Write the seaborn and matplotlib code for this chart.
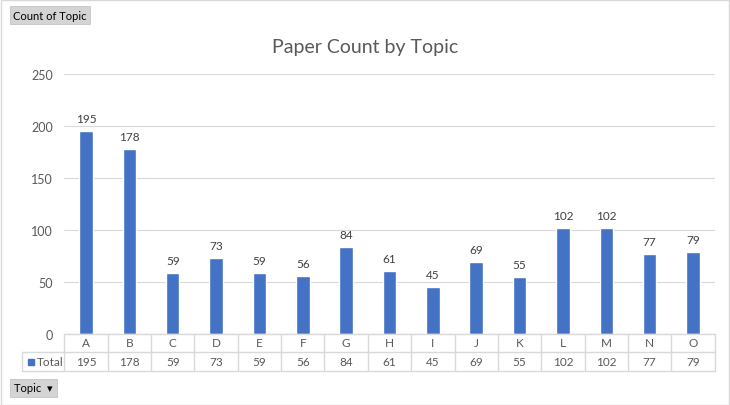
import matplotlib
matplotlib.use("Agg")
import matplotlib.pyplot as plt
import matplotlib.transforms as mtrans
from matplotlib.patches import Rectangle
import seaborn as sns
import pandas as pd

# Data
topics = ["A", "B", "C", "D", "E", "F", "G", "H", "I", "J", "K", "L", "M", "N", "O"]
counts = [195, 178, 59, 73, 59, 56, 84, 61, 45, 69, 55, 102, 102, 77, 79]

df = pd.DataFrame({"Topic": topics, "Total": counts})

sns.set_style("white")
plt.rcParams['font.family'] = ['Lato', 'DejaVu Sans']

bar_color = "#4472C4"
text_color = "#595959"
grid_color = "#D9D9D9"

W, H = 730, 406
fig = plt.figure(figsize=(W / 100, H / 100), dpi=100)

# plot area in pixels
left_px, right_px = 64.3, 714.7
top_px, bottom_px = 75, 335
ax = fig.add_axes([left_px / W, (H - bottom_px) / H,
                   (right_px - left_px) / W, (bottom_px - top_px) / H])

sns.barplot(data=df, x="Topic", y="Total", color=bar_color, width=0.31,
            saturation=1, ax=ax)

ax.set_xlim(-0.5, len(topics) - 0.5)
ax.set_ylim(0, 250)
ax.set_yticks(range(0, 251, 50))
ax.tick_params(axis="y", length=0, labelsize=9, labelcolor=text_color, pad=8)
ax.set_xticks([])
ax.set_xlabel("")
ax.set_ylabel("")
ax.grid(axis="y", color=grid_color, linewidth=0.8)
ax.set_axisbelow(True)
for s in ax.spines.values():
    s.set_visible(False)

# value labels
for c in ax.containers:
    ax.bar_label(c, padding=5, fontsize=8.5, color="#404040")

# title
fig.text(0.5, 1 - 48 / H, "Paper Count by Topic", ha="center", va="center",
         fontsize=14, color=text_color)

# data table under the chart
trans = mtrans.blended_transform_factory(ax.transData, ax.transAxes)
ph = bottom_px - top_px
r1 = -18 / ph
r2 = -37 / ph
x_head = (22 - left_px) / ((right_px - left_px) / len(topics)) - 0.5
x_end = len(topics) - 0.5

line_kw = dict(color=grid_color, linewidth=1, transform=trans, clip_on=False)
ax.plot([-0.5, x_end], [0, 0], **line_kw)
ax.plot([x_head, x_end], [r1, r1], **line_kw)
ax.plot([x_head, x_end], [r2, r2], **line_kw)
ax.plot([x_head, x_head], [r1, r2], **line_kw)
for i in range(len(topics) + 1):
    ax.plot([i - 0.5, i - 0.5], [0, r2], **line_kw)

for i, (t, v) in enumerate(zip(topics, counts)):
    ax.text(i, r1 / 2, t, ha="center", va="center", fontsize=8.5,
            color=text_color, transform=trans, clip_on=False)
    ax.text(i, (r1 + r2) / 2, str(v), ha="center", va="center", fontsize=8.5,
            color=text_color, transform=trans, clip_on=False)

ax.plot([x_head + 0.2], [(r1 + r2) / 2], marker="s", ms=5, color=bar_color,
        transform=trans, clip_on=False, linestyle="none")
ax.text(x_head + 0.35, (r1 + r2) / 2, "Total", ha="left", va="center",
        fontsize=8.5, color=text_color, transform=trans, clip_on=False)

# pivot field buttons
fig.text(13 / W, 1 - 16 / H, "Count of Topic", ha="left", va="center",
         fontsize=8, color="black",
         bbox=dict(boxstyle="square,pad=0.3", fc="#D4D4D4", ec="#C4C4C4", lw=0.6))
fig.text(14 / W, 1 - 389 / H, "Topic  \u25BE", ha="left", va="center",
         fontsize=8, color="black",
         bbox=dict(boxstyle="square,pad=0.35", fc="#D4D4D4", ec="#C4C4C4", lw=0.6))

# outer frame
fig.patches.append(Rectangle((0.5 / W, 0.5 / H), 1 - 1.5 / W, 1 - 1.5 / H,
                             transform=fig.transFigure, fill=False,
                             ec="#D9D9D9", lw=1))

fig.savefig("out.png", dpi=100)
